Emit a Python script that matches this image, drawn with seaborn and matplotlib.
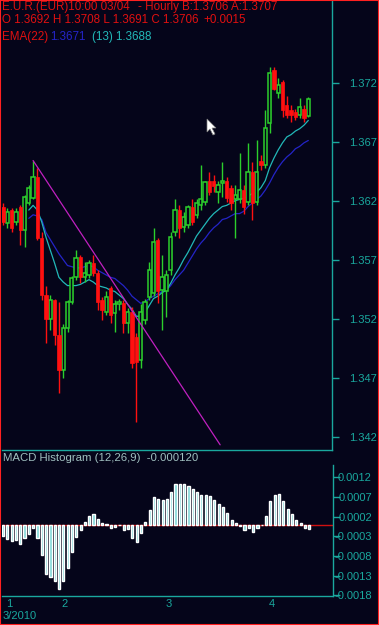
import matplotlib
matplotlib.use("Agg")
import matplotlib.pyplot as plt
from matplotlib.patches import Rectangle, Polygon
import numpy as np
import pandas as pd
import seaborn as sns

# ---------------- data ----------------
day_labels = ["1", "2", "3", "4"]
day_starts = [0, 13, 37, 61]

opens = [1.3615, 1.3601, 1.3612, 1.3602, 1.3615, 1.3595, 1.3618, 1.3622, 1.3640, 1.3588,
         1.3540, 1.3520, 1.3536, 1.3506, 1.3476, 1.3512, 1.3534, 1.3555, 1.3572, 1.3555,
         1.3557, 1.3567, 1.3559, 1.3536, 1.3526, 1.3546, 1.3525, 1.3532, 1.3533, 1.3516,
         1.3526, 1.3504, 1.3485, 1.3519, 1.3538, 1.3542, 1.3587, 1.3544, 1.3543, 1.3561,
         1.3593, 1.3612, 1.3598, 1.3599, 1.3615, 1.3608, 1.3616, 1.3619, 1.3637, 1.3637,
         1.3627, 1.3635, 1.3637, 1.3631, 1.3621, 1.3621, 1.3629, 1.3619, 1.3644, 1.3619,
         1.3654, 1.3650, 1.3686, 1.3731, 1.3711, 1.3721, 1.3701, 1.3697, 1.3695, 1.3693,
         1.3698, 1.3692]
highs = [1.3618, 1.3614, 1.3614, 1.3614, 1.3616, 1.3625, 1.3633, 1.3654, 1.3648, 1.3593,
         1.3548, 1.3540, 1.3537, 1.3534, 1.3515, 1.3536, 1.3556, 1.3578, 1.3574, 1.3568,
         1.3570, 1.3574, 1.3561, 1.3538, 1.3543, 1.3548, 1.3536, 1.3537, 1.3536, 1.3529,
         1.3530, 1.3508, 1.3532, 1.3537, 1.3568, 1.3597, 1.3588, 1.3574, 1.3561, 1.3593,
         1.3621, 1.3616, 1.3610, 1.3616, 1.3621, 1.3621, 1.3650, 1.3637, 1.3644, 1.3642,
         1.3637, 1.3653, 1.3640, 1.3633, 1.3633, 1.3660, 1.3633, 1.3669, 1.3653, 1.3671,
         1.3659, 1.3697, 1.3733, 1.3733, 1.3724, 1.3722, 1.3709, 1.3701, 1.3698, 1.3707,
         1.3701, 1.3708]
lows = [1.3599, 1.3597, 1.3593, 1.3599, 1.3582, 1.3581, 1.3616, 1.3621, 1.3587, 1.3536,
        1.3499, 1.3510, 1.3498, 1.3457, 1.3470, 1.3509, 1.3532, 1.3553, 1.3550, 1.3551,
        1.3554, 1.3556, 1.3527, 1.3519, 1.3523, 1.3516, 1.3509, 1.3527, 1.3508, 1.3508,
        1.3478, 1.3432, 1.3478, 1.3515, 1.3536, 1.3539, 1.3533, 1.3510, 1.3521, 1.3557,
        1.3590, 1.3588, 1.3593, 1.3597, 1.3599, 1.3605, 1.3612, 1.3616, 1.3625, 1.3627,
        1.3618, 1.3623, 1.3619, 1.3612, 1.3588, 1.3618, 1.3609, 1.3616, 1.3604, 1.3616,
        1.3646, 1.3648, 1.3677, 1.3714, 1.3707, 1.3691, 1.3690, 1.3687, 1.3688, 1.3690,
        1.3687, 1.3691]
closes = [1.3602, 1.3610, 1.3597, 1.3610, 1.3595, 1.3623, 1.3631, 1.3640, 1.3588, 1.3540,
          1.3520, 1.3536, 1.3506, 1.3476, 1.3512, 1.3534, 1.3554, 1.3571, 1.3555, 1.3559,
          1.3567, 1.3559, 1.3534, 1.3527, 1.3538, 1.3523, 1.3532, 1.3534, 1.3516, 1.3526,
          1.3482, 1.3483, 1.3526, 1.3534, 1.3561, 1.3585, 1.3543, 1.3555, 1.3557, 1.3589,
          1.3612, 1.3597, 1.3606, 1.3615, 1.3602, 1.3618, 1.3621, 1.3636, 1.3627, 1.3632,
          1.3633, 1.3637, 1.3622, 1.3618, 1.3625, 1.3629, 1.3615, 1.3644, 1.3618, 1.3644,
          1.3650, 1.3682, 1.3728, 1.3715, 1.3718, 1.3697, 1.3693, 1.3693, 1.3691, 1.3699,
          1.3690, 1.3706]

ema_start = 6
ema13 = [1.3612, 1.3616, 1.3612, 1.3602, 1.3589, 1.3578, 1.3567, 1.3555, 1.3551, 1.3548,
         1.3548, 1.3548, 1.3549, 1.3551, 1.3553, 1.3551, 1.3548, 1.3547, 1.3546, 1.3544,
         1.3543, 1.3540, 1.3537, 1.3532, 1.3528, 1.3522, 1.3522, 1.3525, 1.3531, 1.3537,
         1.3539, 1.3542, 1.3544, 1.3550, 1.3557, 1.3563, 1.3570, 1.3576, 1.3583, 1.3590,
         1.3595, 1.3600, 1.3605, 1.3609, 1.3612, 1.3615, 1.3616, 1.3618, 1.3620, 1.3621,
         1.3622, 1.3624, 1.3626, 1.3627, 1.3631, 1.3637, 1.3648, 1.3656, 1.3663, 1.3669,
         1.3674, 1.3676, 1.3679, 1.3681, 1.3684, 1.3688]
ema22 = [1.3605, 1.3608, 1.3607, 1.3604, 1.3593, 1.3587, 1.3581, 1.3575, 1.3570, 1.3565,
         1.3564, 1.3563, 1.3563, 1.3564, 1.3565, 1.3564, 1.3561, 1.3559, 1.3557, 1.3555,
         1.3554, 1.3551, 1.3548, 1.3544, 1.3539, 1.3536, 1.3533, 1.3534, 1.3537, 1.3539,
         1.3541, 1.3543, 1.3544, 1.3548, 1.3553, 1.3557, 1.3561, 1.3567, 1.3573, 1.3579,
         1.3584, 1.3588, 1.3593, 1.3597, 1.3600, 1.3604, 1.3605, 1.3607, 1.3609, 1.3609,
         1.3611, 1.3615, 1.3618, 1.3621, 1.3624, 1.3629, 1.3635, 1.3642, 1.3648, 1.3653,
         1.3657, 1.3660, 1.3664, 1.3666, 1.3669, 1.3671]

macd_hist = [-0.00029, -0.00036, -0.00042, -0.00040, -0.00050, -0.00035, -0.00023, -0.00008, -0.00034, -0.00078,
             -0.00126, -0.00133, -0.00143, -0.00164, -0.00144, -0.00111, -0.00071, -0.00032, -0.00014, 0.00006,
             0.00021, 0.00027, 0.00014, 0.00003, 0.00002, -0.00008, -0.00006, -0.00002, -0.00014, -0.00011,
             -0.00034, -0.00044, -0.00021, 0.00006, 0.00036, 0.00070, 0.00065, 0.00063, 0.00066, 0.00082,
             0.00103, 0.00103, 0.00102, 0.00099, 0.00091, 0.00082, 0.00076, 0.00076, 0.00072, 0.00062,
             0.00053, 0.00045, 0.00030, 0.00012, 0.00003, -0.00005, -0.00013, -0.00008, -0.00020, -0.00009,
             -0.00002, 0.00022, 0.00060, 0.00074, 0.00078, 0.00060, 0.00040, 0.00026, 0.00012, 0.00003,
             -0.00010, -0.00012]

trend_x = [7, 50.5]
trend_y = [1.3654, 1.3413]

price_ticks = [1.342, 1.347, 1.352, 1.357, 1.362, 1.367, 1.372]
macd_ticks = [0.0012, 0.0007, 0.0002, -0.0003, -0.0008, -0.0013, -0.0018]

# ---------------- style ----------------
BG = "#05051a"
TEAL = "#1aa89e"
GREEN = "#2ccf2c"
RED = "#ff1010"
CYAN = "#22b8b8"
BLUE = "#2424c8"
MAG = "#c020c0"
HIST = "#80d8d8"
HDR = "#e01010"

sns.set_style("dark", {"axes.facecolor": BG, "figure.facecolor": BG})
plt.rcParams["font.family"] = ["Liberation Sans", "DejaVu Sans"]

W, H = 379, 625
fig = plt.figure(figsize=(W / 100, H / 100), dpi=100)
fig.patch.set_facecolor(BG)


def fx(px):
    return px / W


def fy(py):
    return 1 - py / H


n = len(opens)
idx = np.arange(n)
xmin = -1 / 4.3
xmax = xmin + 330 / 4.3

# ---- price panel ----
ax = fig.add_axes([fx(2), fy(450), fx(330), 450 / H])
ax.set_facecolor(BG)
ax.set_xlim(xmin, xmax)
ax.set_ylim(1.34086, 1.37901)

df = pd.DataFrame({"o": opens, "h": highs, "l": lows, "c": closes})
up = df["c"] >= df["o"]

ema_x = np.arange(ema_start, ema_start + len(ema13))
sns.lineplot(x=ema_x, y=ema22, ax=ax, color=BLUE, lw=0.9, zorder=2)
sns.lineplot(x=ema_x, y=ema13, ax=ax, color=CYAN, lw=0.9, zorder=2)

ax.vlines(idx[up], df["l"][up], df["h"][up], color=GREEN, lw=1, zorder=3)
ax.vlines(idx[~up], df["l"][~up], df["h"][~up], color=RED, lw=1, zorder=3)
body_w = 0.75
minh = 0.00008
bot = np.minimum(df["o"], df["c"])
hgt = np.maximum(np.abs(df["c"] - df["o"]), minh)
ax.bar(idx[up], hgt[up], bottom=bot[up], width=body_w, facecolor=BG,
       edgecolor=GREEN, linewidth=1.1, zorder=4)
ax.bar(idx[~up], hgt[~up], bottom=bot[~up], width=body_w, facecolor=RED,
       edgecolor=RED, linewidth=0.5, zorder=4)

sns.lineplot(x=trend_x, y=trend_y, ax=ax, color=MAG, lw=0.9, zorder=5)

ax.yaxis.tick_right()
ax.set_yticks(price_ticks)
ax.set_yticklabels([f"{t:.3f}" for t in price_ticks])
ax.tick_params(axis="y", colors=TEAL, labelcolor=TEAL, length=5, width=1,
               direction="out", labelsize=8, pad=7)
ax.set_xticks([])
ax.grid(False)
for s in ["left", "top"]:
    ax.spines[s].set_visible(False)
for s in ["right", "bottom"]:
    ax.spines[s].set_color(TEAL)
    ax.spines[s].set_linewidth(1)
ax.set_xlabel("")
ax.set_ylabel("")
if ax.get_legend():
    ax.get_legend().remove()

# ---- MACD panel ----
ax2 = fig.add_axes([fx(2), fy(596), fx(331), 131 / H])
ax2.set_facecolor(BG)
ax2.set_xlim(xmin, xmax)
scale = 0.0000254
ax2.set_ylim(-(596 - 524.5) * scale, (524.5 - 465) * scale)
ax2.bar(idx, macd_hist, width=0.5, color=HIST, zorder=3)
ax2.axhline(0, color="#d01010", lw=1, zorder=2)
ax2.yaxis.tick_right()
ax2.set_yticks(macd_ticks)
ax2.set_yticklabels([f"{t:.4f}" for t in macd_ticks])
ax2.tick_params(axis="y", colors=TEAL, labelcolor=TEAL, length=5, width=1,
                direction="out", labelsize=8, pad=23)
for lab in ax2.get_yticklabels():
    lab.set_horizontalalignment("right")
ax2.set_xticks(day_starts)
ax2.set_xticklabels([])
ax2.tick_params(axis="x", colors=TEAL, length=9, width=1, direction="out")
ax2.grid(False)
for s in ["left", "top"]:
    ax2.spines[s].set_visible(False)
for s in ["right", "bottom"]:
    ax2.spines[s].set_color(TEAL)
    ax2.spines[s].set_linewidth(1)
for pos, lab in zip(day_starts, day_labels):
    ax2.annotate(lab, xy=(pos, 0), xycoords=("data", "axes fraction"),
                 xytext=(2, -2), textcoords="offset points", ha="left", va="top",
                 color=TEAL, fontsize=8)
fig.text(fx(3), fy(616), "3/2010", color=TEAL, fontsize=8, ha="left", va="center")

fig.text(fx(3), fy(458), "MACD Histogram (12,26,9)  -0.000120", color="#a0c0c0",
         fontsize=8.2, ha="left", va="center")

# ---- header texts ----
HFS = 8.4
fig.text(fx(2), fy(7), "E.U.R.(EUR)10:00 03/04", color=HDR, fontsize=HFS,
         ha="left", va="center")
fig.text(fx(138), fy(7), "- Hourly", color=HDR, fontsize=HFS, ha="left", va="center")
fig.text(fx(182), fy(7), "B:1.3706 A:1.3707", color=HDR, fontsize=HFS,
         ha="left", va="center")
fig.text(fx(2), fy(20), "O 1.3692 H 1.3708 L 1.3691 C 1.3706", color=HDR,
         fontsize=HFS, ha="left", va="center")
fig.text(fx(203), fy(20), "+0.0015", color=HDR, fontsize=HFS, ha="left", va="center")
fig.text(fx(2), fy(37), "EMA(22)", color=HDR, fontsize=HFS, ha="left", va="center")
fig.text(fx(50), fy(37), "1.3671", color=BLUE, fontsize=HFS, ha="left", va="center")
fig.text(fx(92), fy(37), "(13) 1.3688", color=CYAN, fontsize=HFS, ha="left", va="center")

# mouse pointer
pts = [(207, 119), (207, 132), (210, 129), (213, 135), (215, 134), (212, 128), (216, 128)]
fig.patches.append(Polygon([(fx(a), fy(b)) for a, b in pts], closed=True,
                           transform=fig.transFigure, facecolor="white",
                           edgecolor="#808080", lw=0.5, zorder=10))

fig.patches.append(Rectangle((0, 0), 1, 1, transform=fig.transFigure, fill=False,
                             edgecolor="#ff2020", lw=1.5, zorder=20))

fig.savefig("out.png", dpi=100, facecolor=BG)
